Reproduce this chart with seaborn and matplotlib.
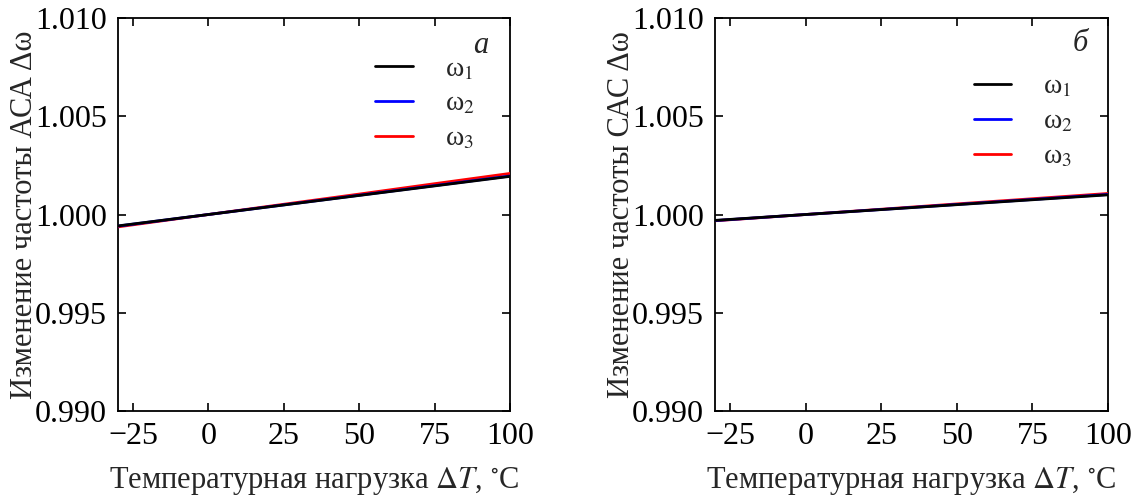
import numpy as np
import pandas as pd
import matplotlib
matplotlib.use("Agg")
import matplotlib.pyplot as plt
import seaborn as sns

# Temperature load, °C
temps = [-30, 0, 25, 50, 75, 100]

# Relative frequency change, panel "а" (АСА)
aca_w1 = [0.99942, 1.00000, 1.000485, 1.00097, 1.001455, 1.00194]
aca_w2 = [0.99941, 1.00000, 1.000490, 1.00098, 1.001470, 1.00196]
aca_w3 = [0.99937, 1.00000, 1.000522, 1.00104, 1.001568, 1.00209]

# Relative frequency change, panel "б" (САС)
cac_w1 = [0.99970, 1.00000, 1.000250, 1.00050, 1.000750, 1.00100]
cac_w2 = [0.99969, 1.00000, 1.000255, 1.00051, 1.000765, 1.00102]
cac_w3 = [0.99968, 1.00000, 1.000268, 1.00054, 1.000803, 1.00107]

series_names = ["ω$_1$", "ω$_2$", "ω$_3$"]
colors = ["black", "blue", "red"]
xticks = [-25, 0, 25, 50, 75, 100]
yticks = [0.990, 0.995, 1.000, 1.005, 1.010]

sns.set_theme(style="ticks")
plt.rcParams["font.family"] = "serif"
plt.rcParams["font.serif"] = ["Liberation Serif", "DejaVu Serif"]
plt.rcParams["mathtext.fontset"] = "stix"
plt.rcParams["font.size"] = 22


def long_frame(values):
    rows = []
    for name, vals in zip(series_names, values):
        for t, v in zip(temps, vals):
            rows.append({"T": t, "w": v, "series": name})
    return pd.DataFrame(rows)


fig = plt.figure(figsize=(11.38, 5.01), dpi=100)
ax1 = fig.add_axes([118 / 1138, 90 / 501, 392 / 1138, 393 / 501])
ax2 = fig.add_axes([715 / 1138, 90 / 501, 393 / 1138, 393 / 501])

panels = [
    (ax1, [aca_w1, aca_w2, aca_w3], "Изменение частоты АСА Δω", "а",
     (0.944, 0.931), (0.656, 0.902)),
    (ax2, [cac_w1, cac_w2, cac_w3], "Изменение частоты САС Δω", "б",
     (0.949, 0.936), (0.659, 0.857)),
]

for ax, vals, ylab, tag, tagpos, legpos in panels:
    df = long_frame(vals)
    sns.lineplot(data=df, x="T", y="w", hue="series", palette=colors,
                 linewidth=2, ax=ax, legend=True)
    # first series on top
    for i, line in enumerate(ax.get_lines()[:3]):
        line.set_zorder(5 - i)
    ax.set_xlim(-30, 100)
    ax.set_ylim(0.990, 1.010)
    ax.set_xticks(xticks)
    ax.set_xticklabels(["−25", "0", "25", "50", "75", "100"])
    ax.set_yticks(yticks)
    ax.set_yticklabels([f"{v:.3f}" for v in yticks])
    ax.tick_params(direction="in", top=True, right=True, length=6, width=1.2,
                   labelsize=23, pad=8, colors="black")
    for s in ax.spines.values():
        s.set_linewidth(1.3)
        s.set_color("black")
    ax.set_xlabel(r"Температурная нагрузка $\Delta T$, $^{\circ}$C", fontsize=22, labelpad=10)
    ax.set_ylabel(ylab, fontsize=22, labelpad=-3)
    ax.text(tagpos[0], tagpos[1], tag, transform=ax.transAxes, fontsize=22,
            fontstyle="italic", ha="right", va="center")
    leg = ax.legend(loc="upper left", bbox_to_anchor=legpos, frameon=False,
                    fontsize=20, handlelength=1.35, handletextpad=1.15,
                    labelspacing=0.34, borderpad=0, borderaxespad=0)
    for line in leg.get_lines():
        line.set_linewidth(2)

fig.savefig("out.png", dpi=100)
